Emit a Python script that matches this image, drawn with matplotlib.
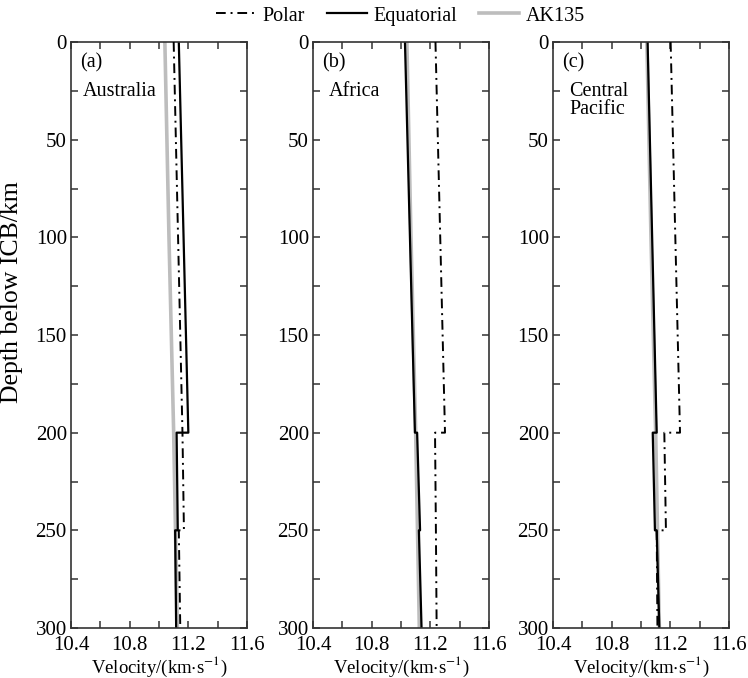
import matplotlib
matplotlib.use("Agg")
import matplotlib.pyplot as plt
from matplotlib.lines import Line2D
from matplotlib.ticker import MultipleLocator, FormatStrFormatter

plt.rcParams['font.family'] = ['Liberation Serif', 'DejaVu Serif']
plt.rcParams['mathtext.fontset'] = 'stix'

# depth nodes (km below ICB), repeated where the models jump
depth_steps = [0, 200, 200, 250, 250, 300]
ak135_depth = [0, 100, 200, 300]
ak135_vel = [11.04, 11.068, 11.10, 11.125]

aus_polar = [11.10, 11.16, 11.16, 11.17, 11.135, 11.145]
aus_equat = [11.135, 11.20, 11.12, 11.128, 11.11, 11.117]
afr_polar = [11.235, 11.30, 11.232, 11.238, 11.238, 11.243]
afr_equat = [11.027, 11.095, 11.11, 11.13, 11.122, 11.14]
pac_polar = [11.202, 11.266, 11.159, 11.17, 11.107, 11.112]
pac_equat = [11.045, 11.107, 11.08, 11.095, 11.107, 11.125]

panel_tags = ["(a)", "(b)", "(c)"]
regions = [["Australia"], ["Africa"], ["Central", "Pacific"]]
polar_all = [aus_polar, afr_polar, pac_polar]
equat_all = [aus_equat, afr_equat, pac_equat]

W, H = 748, 678
fig = plt.figure(figsize=(W / 100, H / 100), dpi=100)

lefts = [71, 313, 553]
ax_w, ax_top, ax_bot = 176, 42, 628
region_x = [12, 16, 16]
dashdot = (5, 2.5, 1, 2.5)
gray = '#bdbdbd'

for i in range(3):
    ax = fig.add_axes([lefts[i] / W, (H - ax_bot) / H, ax_w / W, (ax_bot - ax_top) / H])
    ax.plot(ak135_vel, ak135_depth, color=gray, lw=2.6, zorder=1)
    ax.plot(equat_all[i], depth_steps, color='black', lw=1.6, zorder=2)
    ax.plot(polar_all[i], depth_steps, color='black', lw=1.4, dashes=dashdot, zorder=3)

    ax.set_xlim(10.4, 11.6)
    ax.set_ylim(300, 0)
    ax.xaxis.set_major_locator(MultipleLocator(0.4))
    ax.xaxis.set_minor_locator(MultipleLocator(0.2))
    ax.yaxis.set_major_locator(MultipleLocator(50))
    ax.yaxis.set_minor_locator(MultipleLocator(25))
    ax.xaxis.set_major_formatter(FormatStrFormatter('%.1f'))
    ax.tick_params(which='both', direction='in', top=True, right=True,
                   length=5, width=1.1, color='#333333', labelsize=15)
    ax.tick_params(axis='x', pad=6)
    ax.tick_params(axis='y', pad=3)
    for sp in ax.spines.values():
        sp.set_color('#333333')
        sp.set_linewidth(1.2)
    ax.set_xlabel(r"Velocity/(km$\cdot$s$^{-1}$)", fontsize=13.5, labelpad=-0.5)

    ax.text(9 / ax_w, 1 - 21 / 586, panel_tags[i], transform=ax.transAxes,
            fontsize=14.5, ha='left', va='center')
    for k, line in enumerate(regions[i]):
        ax.text(region_x[i] / ax_w, 1 - (49 + 18 * k) / 586, line,
                transform=ax.transAxes, fontsize=14.5, ha='left', va='center')

fig.text(12 / W, 1 - 292 / H, "Depth below ICB/km", rotation=90,
         ha='center', va='center', fontsize=18.5)

handles = [
    Line2D([], [], color='black', lw=1.4, dashes=dashdot),
    Line2D([], [], color='black', lw=1.6),
    Line2D([], [], color=gray, lw=2.6),
]
fig.legend(handles, ["Polar", "Equatorial", "AK135"], loc='center',
           bbox_to_anchor=(0.535, 1 - 16 / H), ncol=3, frameon=False,
           fontsize=14.5, handlelength=2.0, handletextpad=0.3, columnspacing=1.1)

fig.savefig("out.png", dpi=100)
